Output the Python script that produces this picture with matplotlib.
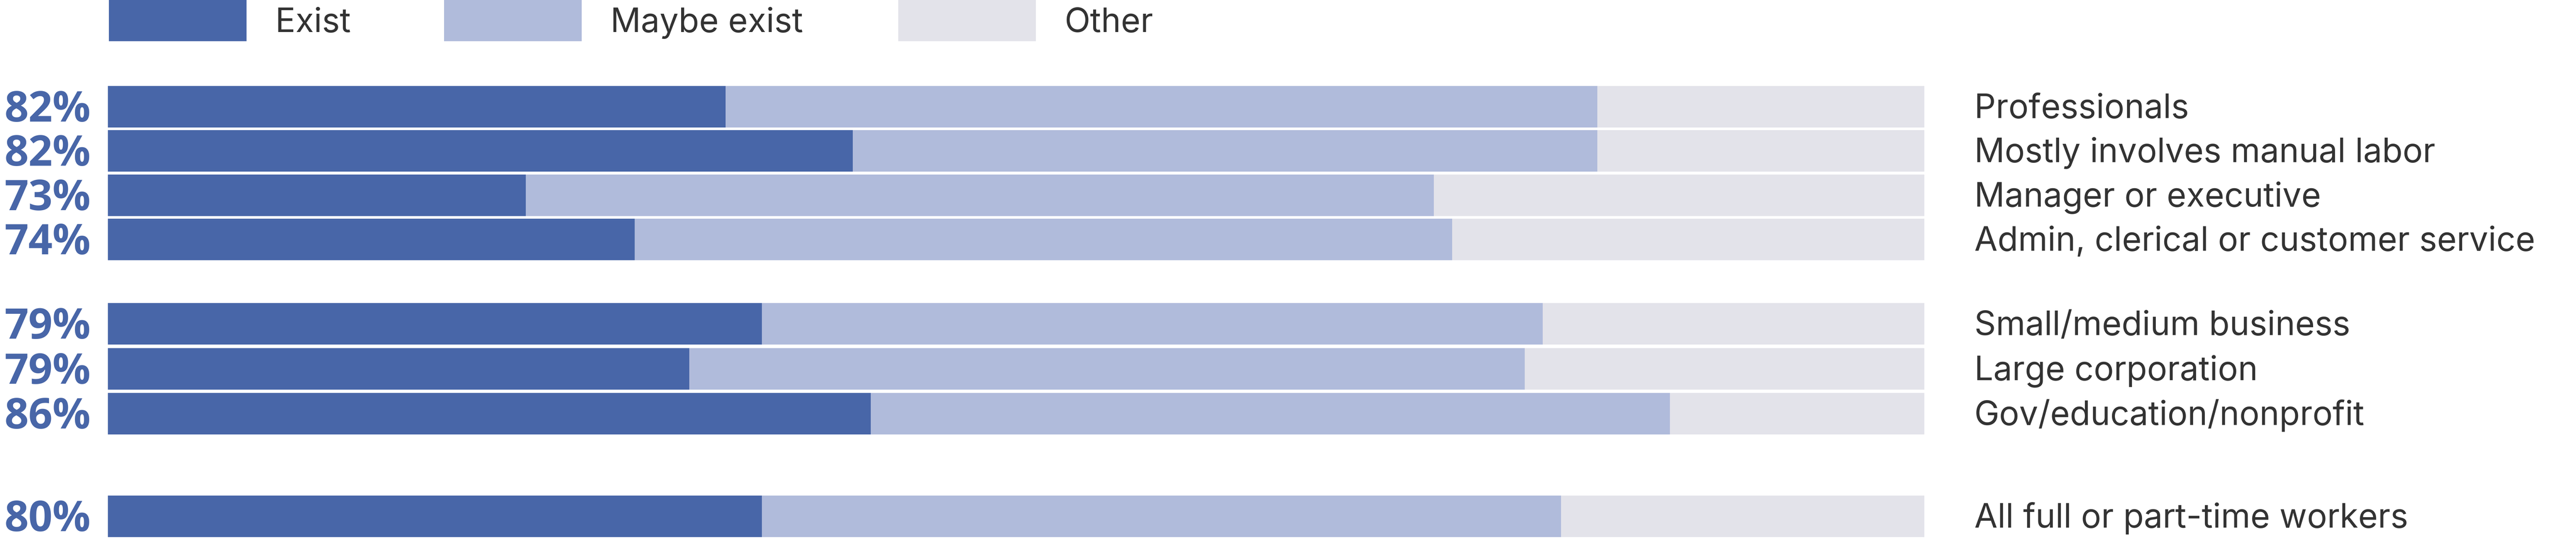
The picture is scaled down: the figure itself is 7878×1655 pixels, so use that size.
import numpy as np
import matplotlib
matplotlib.use('Agg')
import matplotlib.pyplot as plt
from matplotlib.patches import Rectangle

# Data
categories = ['Professionals', 'Mostly involves manual labor', 'Manager or executive',
              'Admin, clerical or customer service', 'Small/medium business',
              'Large corporation', 'Gov/education/nonprofit', 'All full or part-time workers']
exist = np.array([34, 41, 23, 29, 36, 32, 42, 36])
maybe = np.array([48, 41, 50, 45, 43, 46, 44, 44])
other = 100 - exist - maybe
pct_labels = ['82%', '82%', '73%', '74%', '79%', '79%', '86%', '80%']
series = ['Exist', 'Maybe exist', 'Other']

# Style
c_exist = '#4866A8'
c_maybe = '#B0BBDB'
c_other = '#E3E3EA'
c_text = '#333333'
W, H = 7878, 1656
plt.rcParams['font.family'] = ['Open Sans', 'DejaVu Sans']
label_font = ['Inter', 'Open Sans', 'DejaVu Sans']

# row layout (slots), three groups
rows_y = np.array([0, 1, 2, 3, 4.91, 5.93, 6.94, 9.26])
slot_px = 135.3
top_px = 327.5

fig = plt.figure(figsize=(W / 100, H / 100), dpi=100)
ax = fig.add_axes([330 / W, 0, 5555 / W, 1])
ax.set_xlim(0, 100)
ax.set_ylim((H - top_px) / slot_px, -top_px / slot_px)
ax.axis('off')

bh = 127 / slot_px
ax.barh(rows_y, exist, height=bh, color=c_exist)
ax.barh(rows_y, maybe, left=exist, height=bh, color=c_maybe)
ax.barh(rows_y, other, left=exist + maybe, height=bh, color=c_other)

# labels
for y, cat, pl in zip(rows_y, categories, pct_labels):
    ax.text(102.75, y + 33.5 / slot_px, cat, fontsize=74, color=c_text,
            family=label_font, ha='left', va='baseline')
    ax.text(-0.95, y + 44.5 / slot_px, pl, fontsize=93, fontweight='bold',
            color=c_exist, ha='right', va='baseline')

# legend
leg_x = [333, 1358, 2747]
for x, name, col in zip(leg_x, series, [c_exist, c_maybe, c_other]):
    fig.add_artist(Rectangle((x / W, 1 - 127 / H), 421 / W, 127 / H,
                             transform=fig.transFigure, color=col, lw=0))
    fig.text((x + 421 + 88) / W, 1 - 98 / H, name, fontsize=74, color=c_text,
             family=label_font, ha='left', va='baseline')

fig.savefig('out.png', dpi=100)
